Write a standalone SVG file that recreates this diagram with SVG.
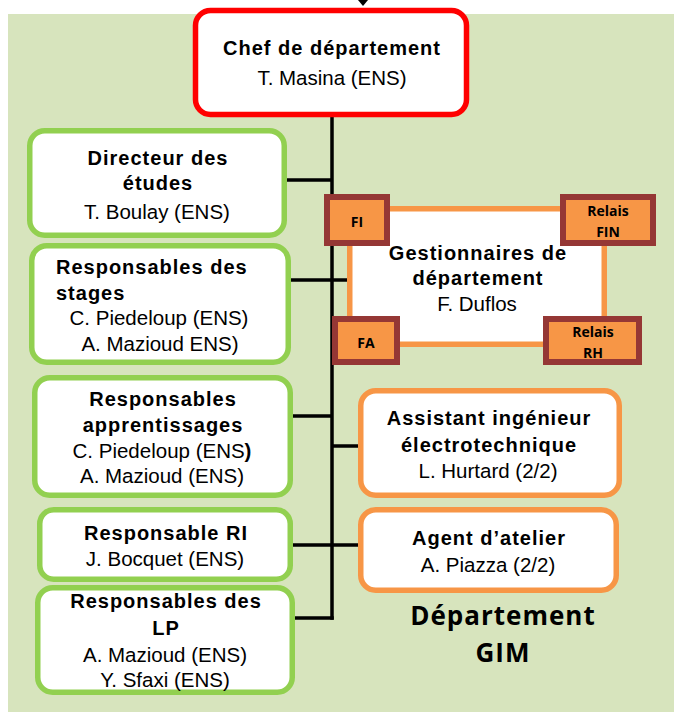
<svg xmlns="http://www.w3.org/2000/svg" width="677" height="712" viewBox="0 0 677 712">
<style>
.b{font-family:"Liberation Sans",Arial,sans-serif;font-weight:bold;font-size:20px;letter-spacing:1px;fill:#000}
.r{font-family:"Liberation Sans",Arial,sans-serif;font-size:20.5px;fill:#000}
.s{font-family:"Open Sans","Liberation Sans",sans-serif;font-weight:bold;font-size:14px;fill:#000}
.t{font-family:"Open Sans","Liberation Sans",sans-serif;font-weight:bold;font-size:26px;letter-spacing:1px;fill:#000}
.gbox{fill:#fff;stroke:#92D050;stroke-width:5.5}
.obox{fill:#fff;stroke:#F79646;stroke-width:5.5}
.tag{fill:#F79646;stroke:#953735;stroke-width:6}
.c{stroke:#000;stroke-width:3.5;fill:none}
</style>
<rect x="8" y="14" width="666" height="698" fill="#D7E4BD"/>
<g id="connectors">
<polygon points="358,0 368,0 363,6" fill="#000"/>
<line class="c" x1="332" y1="114" x2="332" y2="619.75"/>
<line class="c" x1="286" y1="180" x2="332" y2="180"/>
<line class="c" x1="290" y1="280" x2="349" y2="280"/>
<line class="c" x1="292" y1="416" x2="332" y2="416"/>
<line class="c" x1="332" y1="446" x2="359" y2="446"/>
<line class="c" x1="292" y1="545" x2="359" y2="545"/>
<line class="c" x1="294" y1="618" x2="333.75" y2="618"/>
</g>
<g id="chef">
<rect x="195.5" y="10.5" width="271" height="104" rx="15" fill="#fff" stroke="#FF0000" stroke-width="5.5"/>
<text class="b" x="332" y="55" text-anchor="middle">Chef de département</text>
<text class="r" x="332" y="85" text-anchor="middle">T. Masina (ENS)</text>
</g>
<g id="directeur">
<rect class="gbox" x="29.75" y="130.75" width="254.5" height="104.5" rx="15"/>
<text class="b" x="158" y="165" text-anchor="middle">Directeur des</text>
<text class="b" x="158" y="190" text-anchor="middle">études</text>
<text class="r" x="157" y="219" text-anchor="middle">T. Boulay (ENS)</text>
</g>
<g id="stages">
<rect class="gbox" x="31.75" y="245.75" width="256.5" height="116.5" rx="15"/>
<text class="b" x="56" y="274">Responsables des</text>
<text class="b" x="56" y="300">stages</text>
<text class="r" x="159" y="325" text-anchor="middle">C. Piedeloup (ENS)</text>
<text class="r" x="160" y="351" text-anchor="middle">A. Mazioud ENS)</text>
</g>
<g id="apprentissages">
<rect class="gbox" x="34.75" y="377.75" width="255.5" height="117.5" rx="15"/>
<text class="b" x="163" y="406" text-anchor="middle">Responsables</text>
<text class="b" x="163" y="432" text-anchor="middle">apprentissages</text>
<text class="r" x="162" y="458" text-anchor="middle">C. Piedeloup (ENS<tspan font-weight="bold">)</tspan></text>
<text class="r" x="162" y="483" text-anchor="middle">A. Mazioud (ENS)</text>
</g>
<g id="ri">
<rect class="gbox" x="39.75" y="509.75" width="250.5" height="69.5" rx="14"/>
<text class="b" x="166" y="540" text-anchor="middle">Responsable RI</text>
<text class="r" x="165" y="566" text-anchor="middle">J. Bocquet (ENS)</text>
</g>
<g id="lp">
<rect class="gbox" x="37.75" y="587.75" width="254.5" height="104.5" rx="15"/>
<text class="b" x="166" y="608" text-anchor="middle">Responsables des</text>
<text class="b" x="166" y="635" text-anchor="middle">LP</text>
<text class="r" x="165" y="662" text-anchor="middle">A. Mazioud (ENS)</text>
<text class="r" x="165" y="687" text-anchor="middle">Y. Sfaxi (ENS)</text>
</g>
<g id="gestionnaires">
<rect x="349.75" y="208.75" width="254.5" height="135.5" fill="#fff" stroke="#F79646" stroke-width="5.5"/>
<text class="b" x="478" y="260" text-anchor="middle">Gestionnaires de</text>
<text class="b" x="478" y="285" text-anchor="middle">département</text>
<text class="r" x="477" y="311" text-anchor="middle">F. Duflos</text>
</g>
<g id="fi">
<rect class="tag" x="327" y="197" width="60" height="46"/>
<text class="s" x="357" y="227" text-anchor="middle">FI</text>
</g>
<g id="relais-fin">
<rect class="tag" x="563" y="197" width="90" height="46"/>
<text class="s" x="608" y="216" text-anchor="middle">Relais</text>
<text class="s" x="608" y="237" text-anchor="middle">FIN</text>
</g>
<g id="fa">
<rect class="tag" x="335" y="319" width="62" height="43"/>
<text class="s" x="366" y="348" text-anchor="middle">FA</text>
</g>
<g id="relais-rh">
<rect class="tag" x="546" y="319" width="93" height="43"/>
<text class="s" x="593" y="337" text-anchor="middle">Relais</text>
<text class="s" x="593" y="358" text-anchor="middle">RH</text>
</g>
<g id="assistant">
<rect class="obox" x="360.75" y="390.75" width="258.5" height="104.5" rx="15"/>
<text class="b" x="489" y="425" text-anchor="middle">Assistant ingénieur</text>
<text class="b" x="489" y="452" text-anchor="middle">électrotechnique</text>
<text class="r" x="488" y="478" text-anchor="middle">L. Hurtard (2/2)</text>
</g>
<g id="agent">
<rect class="obox" x="360.75" y="509.75" width="255.5" height="80.5" rx="15"/>
<text class="b" x="489" y="545" text-anchor="middle">Agent d’atelier</text>
<text class="r" x="488" y="572" text-anchor="middle">A. Piazza (2/2)</text>
</g>
<g id="title">
<text class="t" x="503" y="625" text-anchor="middle">Département</text>
<text class="t" x="503" y="662" text-anchor="middle">GIM</text>
</g>
</svg>
